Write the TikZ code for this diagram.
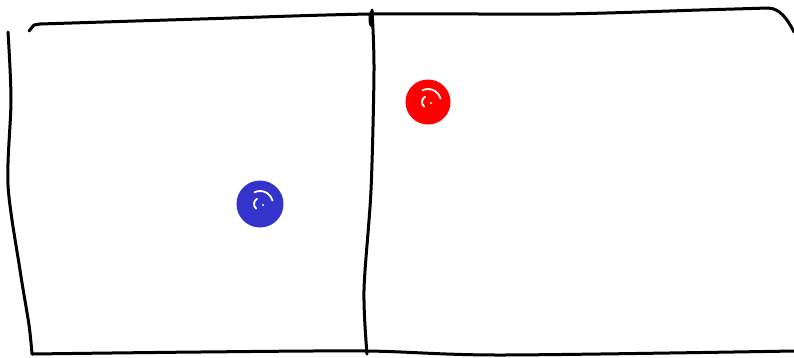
\documentclass[tikz,border=0pt]{standalone}
\begin{document}
\begin{tikzpicture}[x=1pt,y=-1pt,
  stroke/.style={draw=black,line width=3pt,line cap=round,line join=round},
  dotmark/.style={circle,inner sep=0pt,minimum size=44pt},
  hilite/.style={draw=white,line width=1.8pt,line cap=round}]
\useasboundingbox (0,0) rectangle (794,357);
\definecolor{sketchred}{RGB}{255,0,0}
\definecolor{sketchblue}{RGB}{52,52,204}
% left side
\draw[stroke] plot[smooth] coordinates {(8,32) (11,100) (8,185) (20,270) (29,325) (32,354)};
% bottom
\draw[stroke] plot[smooth] coordinates {(32,354) (200,352) (366,351) (500,355) (794,351)};
% top
\draw[stroke] (29,31) -- (34,25) -- (40,24);
\draw[stroke] plot[smooth] coordinates {(40,24) (200,19) (372,14) (560,14) (700,10) (768,8)};
\draw[stroke] (768,8) .. controls (780,8) and (788,20) .. (794,32);
% middle divider
\draw[stroke] plot[smooth] coordinates {(372,10) (374,70) (371,190) (364,290) (367,354)};
\fill (371,19) ellipse (2.5pt and 8pt);
% dots
\node[dotmark,fill=sketchred,minimum size=45pt] (red) at (428,102) {};
\node[dotmark,fill=sketchblue,minimum size=47pt] (blue) at (260,204) {};
\begin{scope}[shift={(red.center)}]
\draw[hilite] (130:6) arc (130:240:6);
\draw[hilite] (-115:13) arc (-115:-15:13);
\fill[white] (3,1) circle (1.1pt);
\end{scope}
\begin{scope}[shift={(blue.center)}]
\draw[hilite] (130:6) arc (130:240:6);
\draw[hilite] (-115:13) arc (-115:-15:13);
\fill[white] (3,1) circle (1.1pt);
\end{scope}
\end{tikzpicture}
\end{document}
